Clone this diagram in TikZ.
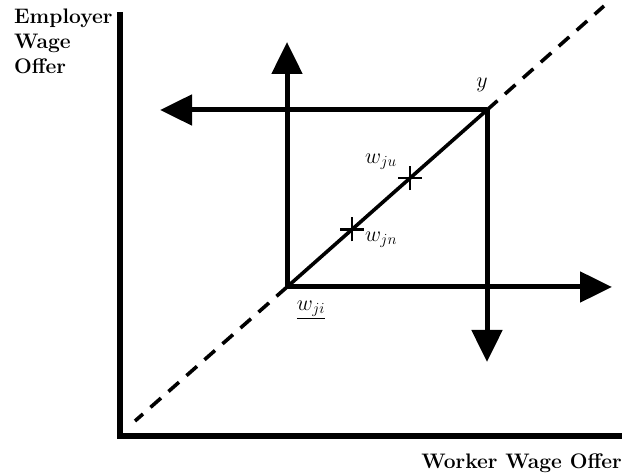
\RequirePackage{fix-cm}
\documentclass[tikz,border=0pt]{standalone}
\usetikzlibrary{arrows.meta,calc}
\begin{document}
\begin{tikzpicture}[x=1pt,y=1pt,
    axis/.style={line width=6pt},
    boxline/.style={line width=5pt,-{Triangle[length=32pt,width=30pt]}},
    diag/.style={line width=3.6pt},
    lbl/.style={font=\fontsize{21}{25}\selectfont\bfseries},
    mlbl/.style={font=\fontsize{22}{26}\selectfont}]

      \useasboundingbox (0,0) rectangle (626,476);

      % Titik sudut sumbu
      \coordinate (O) at (120,40);
      \coordinate (Ytop) at (120,464);
      \coordinate (Xend) at (622,40);

      % Titik sudut kotak
      \coordinate (A) at (287,189);
      \coordinate (B) at (487,366);

      % Ujung panah
      \coordinate (Up) at (287,434);
      \coordinate (Left) at (160,366);
      \coordinate (Down) at (487,114);
      \coordinate (Right) at (612,189);

      % Sumbu
      \draw[axis] (Ytop)--(O)--(Xend);

      % Garis diagonal
      \draw[diag,dashed,dash pattern=on 14pt off 10pt] (A)--(135,55);
      \draw[diag,dashed,dash pattern=on 14pt off 10pt] (B)--(604,470);
      \draw[diag] (A)--(B);

      % Panah kotak
      \draw[boxline] (A)--(Up);
      \draw[boxline] (A)--(Right);
      \draw[boxline] (B)--(Left);
      \draw[boxline] (B)--(Down);

      % Tanda silang
      \coordinate (U) at ($(A)!0.615!(B)$);
      \coordinate (N) at ($(A)!0.325!(B)$);
      \draw[line width=2.5pt] ($(U)+(-12,0)$)--($(U)+(12,0)$) ($(U)+(0,-12)$)--($(U)+(0,12)$);
      \draw[line width=2.5pt] ($(N)+(-12,0)$)--($(N)+(12,0)$) ($(N)+(0,-12)$)--($(N)+(0,12)$);

      % Label titik
      \node[mlbl] (wju) at (381,314) {$w_{ju}$};
      \node[mlbl] (wjn) at (381,236) {$w_{jn}$};
      \node[mlbl] (wji) at (311,166) {$\underline{w_{ji}}$};
      \node[mlbl] (ylab) at (482,391) {$y$};

      % Label sumbu
      \node[lbl,anchor=north west,align=left,inner sep=0pt] (ylabel) at (14,467) {Employer\\Wage\\Offer};
      \node[lbl,anchor=south east,inner sep=0pt] (xlabel) at (622,3) {Worker Wage Offer};

    \end{tikzpicture}
\end{document}
